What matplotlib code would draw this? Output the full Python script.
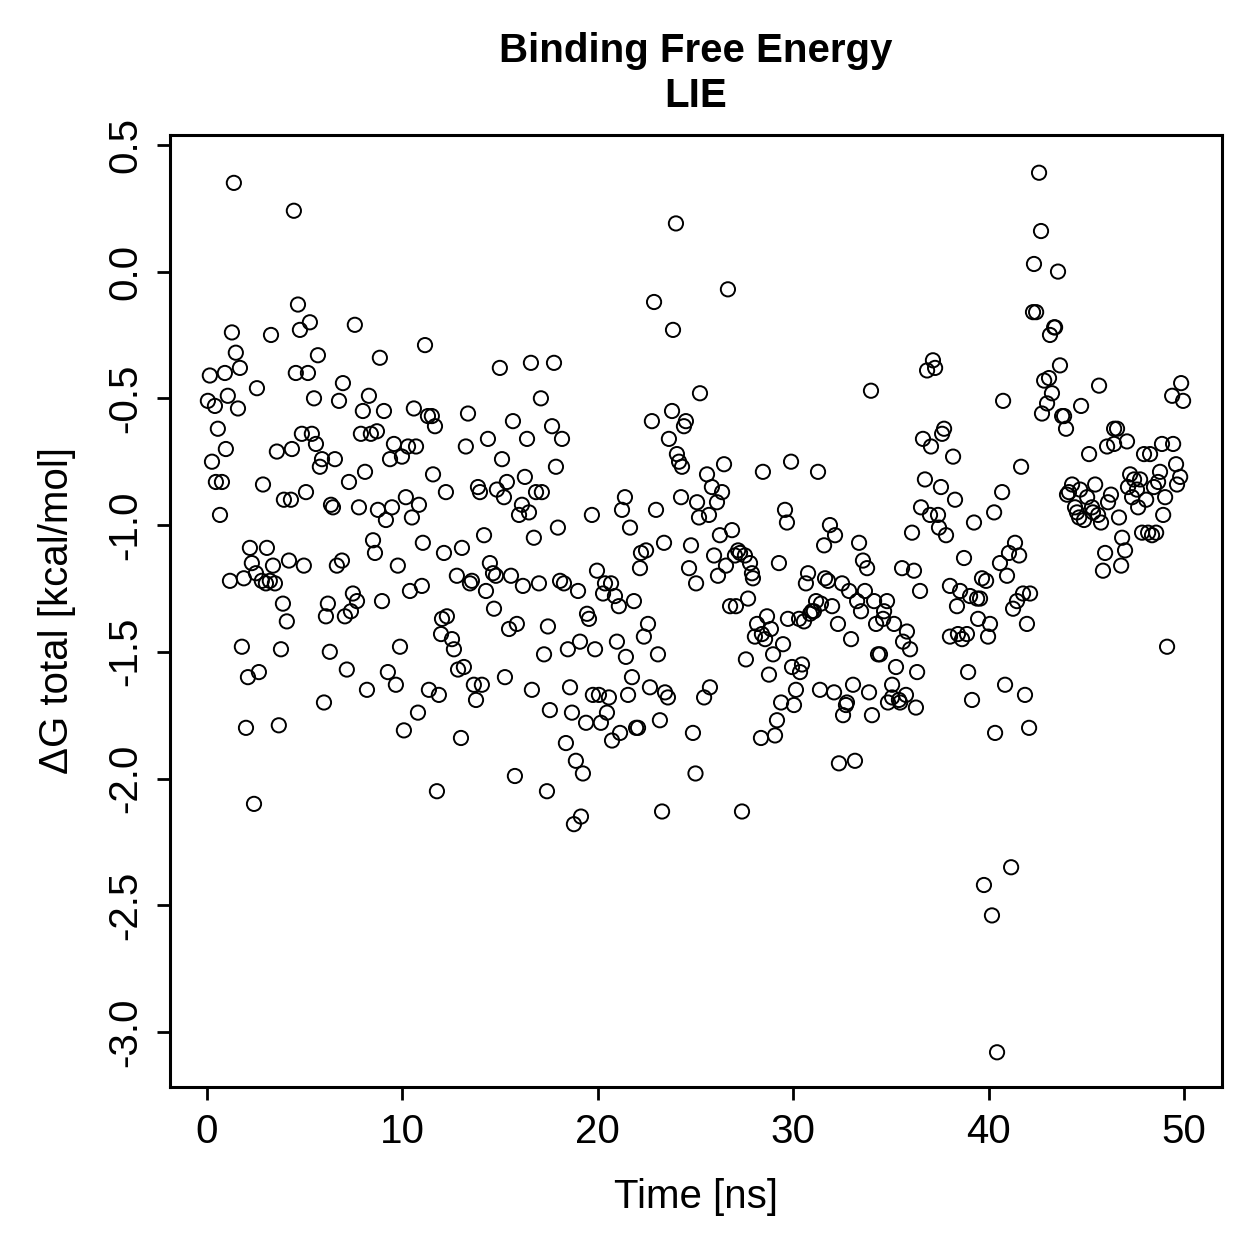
import numpy as np
import matplotlib
matplotlib.use("Agg")
import matplotlib.pyplot as plt

# values (time in ns, dG in kcal/mol)
time_a = [1.38, 4.45, 4.66, 5.27, 4.76, 7.57, 1.28, 3.28, 11.16, 1.48, 5.68, 8.85, 1.69, 0.15, 0.92,
          4.55, 5.17, 2.56, 6.96, 0.05, 0.41, 1.07, 1.59, 5.48, 6.76, 8.29, 7.98, 9.06, 10.59, 11.31,
          11.51, 11.67, 0.56, 4.86, 5.37, 5.58, 7.88, 8.39, 8.70, 9.57, 10.29, 10.70, 9.98, 9.37, 0.97,
          3.58, 4.35, 5.89, 6.55, 0.26, 5.78, 0.46, 0.77, 2.87, 7.27, 8.09, 11.57, 12.23, 3.94, 4.30,
          5.07, 6.35, 6.45, 7.78, 8.75, 9.47, 10.18, 10.85, 10.49, 9.16, 0.67, 8.50, 8.60, 11.05, 12.13,
          2.20, 3.07, 2.30, 3.38, 4.20, 4.96, 6.91, 6.65, 9.77, 1.18, 1.89, 2.51, 2.81, 3.02, 3.22,
          3.48, 3.89, 6.19, 6.09, 7.47, 7.68, 7.37, 7.06, 8.96, 10.39, 11.00, 12.03, 12.28, 11.98, 4.09,
          1.79, 3.79, 6.29, 9.88, 2.66, 2.10, 7.16, 9.26, 9.67, 8.19, 11.36, 11.87, 5.99, 10.80, 2.00,
          3.68, 10.08, 2.41, 11.77]
dg_a = [0.35, 0.24, -0.13, -0.20, -0.23, -0.21, -0.24, -0.25, -0.29, -0.32, -0.33, -0.34, -0.38, -0.41, -0.40,
        -0.40, -0.40, -0.46, -0.44, -0.51, -0.53, -0.49, -0.54, -0.50, -0.51, -0.49, -0.55, -0.55, -0.54, -0.57,
        -0.57, -0.61, -0.62, -0.64, -0.64, -0.68, -0.64, -0.64, -0.63, -0.68, -0.69, -0.69, -0.73, -0.74, -0.70,
        -0.71, -0.70, -0.74, -0.74, -0.75, -0.77, -0.83, -0.83, -0.84, -0.83, -0.79, -0.80, -0.87, -0.90, -0.90,
        -0.87, -0.92, -0.93, -0.93, -0.94, -0.93, -0.89, -0.92, -0.97, -0.98, -0.96, -1.06, -1.11, -1.07, -1.11,
        -1.09, -1.09, -1.15, -1.16, -1.14, -1.16, -1.14, -1.16, -1.16, -1.22, -1.21, -1.19, -1.22, -1.23, -1.22,
        -1.23, -1.31, -1.31, -1.36, -1.27, -1.30, -1.34, -1.36, -1.30, -1.26, -1.24, -1.37, -1.36, -1.43, -1.38,
        -1.48, -1.49, -1.50, -1.48, -1.58, -1.60, -1.57, -1.58, -1.63, -1.65, -1.65, -1.67, -1.70, -1.74, -1.80,
        -1.79, -1.81, -2.10, -2.05]

time_b = [24.00, 22.88, 23.85, 14.99, 16.58, 17.76, 17.09, 13.36, 15.66, 17.66, 18.17, 14.38, 16.38, 13.25, 15.10,
          17.86, 22.77, 23.80, 24.51, 24.41, 23.64, 24.05, 24.16, 24.31, 25.23, 16.27, 15.35, 13.87, 13.97, 14.84,
          15.20, 16.84, 17.14, 16.12, 15.97, 16.48, 19.70, 21.39, 21.24, 21.65, 22.98, 24.26, 25.08, 25.18, 14.18,
          13.05, 16.73, 17.96, 23.39, 24.77, 22.21, 22.47, 22.16, 24.67, 25.03, 14.48, 14.64, 14.79, 12.79, 13.46,
          13.56, 15.56, 14.28, 16.17, 16.99, 18.07, 18.27, 18.99, 19.96, 20.37, 20.68, 20.27, 20.88, 21.08, 21.85,
          14.69, 19.45, 19.55, 15.86, 15.46, 17.45, 22.57, 22.36, 12.54, 12.64, 19.09, 18.47, 19.86, 20.98, 21.44,
          23.08, 17.25, 13.15, 12.85, 15.25, 14.07, 13.66, 21.75, 16.63, 18.58, 22.67, 19.75, 20.06, 20.57, 21.55,
          23.44, 23.59, 13.77, 17.55, 18.68, 20.47, 19.40, 20.16, 23.18, 21.96, 22.06, 21.14, 20.73, 24.87, 13.00,
          18.37, 18.88, 15.76, 19.24, 17.40, 19.14, 18.78, 23.29, 25.00]
dg_b = [0.19, -0.12, -0.23, -0.38, -0.36, -0.36, -0.50, -0.56, -0.59, -0.61, -0.66, -0.66, -0.66, -0.69, -0.74,
        -0.77, -0.59, -0.55, -0.59, -0.61, -0.66, -0.72, -0.75, -0.77, -0.48, -0.81, -0.83, -0.85, -0.87, -0.86,
        -0.89, -0.87, -0.87, -0.92, -0.96, -0.95, -0.96, -0.89, -0.94, -1.01, -0.94, -0.89, -0.91, -0.97, -1.04,
        -1.09, -1.05, -1.01, -1.07, -1.08, -1.11, -1.10, -1.17, -1.17, -1.23, -1.15, -1.19, -1.20, -1.20, -1.23,
        -1.22, -1.20, -1.26, -1.24, -1.23, -1.22, -1.23, -1.26, -1.18, -1.23, -1.23, -1.27, -1.28, -1.32, -1.30,
        -1.33, -1.35, -1.37, -1.39, -1.41, -1.40, -1.39, -1.44, -1.45, -1.49, -1.46, -1.49, -1.49, -1.46, -1.52,
        -1.51, -1.51, -1.56, -1.57, -1.60, -1.63, -1.63, -1.60, -1.65, -1.64, -1.64, -1.67, -1.67, -1.68, -1.67,
        -1.66, -1.68, -1.69, -1.73, -1.74, -1.74, -1.78, -1.78, -1.77, -1.80, -1.80, -1.82, -1.85, -1.82, -1.84,
        -1.86, -1.93, -1.99, -1.98, -2.05, -2.15, -2.18, -2.13, -1.98]

time_c = [26.66, 33.98, 37.15, 36.85, 37.26, 36.64, 37.05, 37.72, 37.62, 38.18, 26.46, 28.45, 29.89, 31.27, 25.59,
          25.84, 26.36, 26.10, 25.69, 26.25, 26.87, 25.95, 26.56, 26.15, 27.18, 27.02, 27.28, 27.53, 27.79, 27.89,
          27.94, 29.27, 29.58, 29.68, 31.88, 32.14, 31.58, 33.37, 33.57, 33.78, 35.57, 36.18, 36.49, 36.74, 37.56,
          36.54, 37.00, 37.41, 37.46, 37.82, 36.08, 38.28, 38.02, 38.02, 30.76, 30.65, 31.63, 31.78, 32.50, 32.86,
          33.67, 33.27, 34.14, 34.80, 33.47, 34.65, 34.60, 34.24, 35.16, 35.82, 35.62, 35.98, 32.29, 32.96, 31.99,
          31.17, 31.42, 30.96, 30.86, 31.06, 30.55, 30.30, 29.73, 27.69, 26.77, 27.07, 28.66, 28.15, 28.86, 28.04,
          28.56, 28.40, 29.48, 28.97, 27.58, 28.76, 29.94, 30.45, 30.35, 34.34, 34.44, 35.26, 36.34, 35.06, 33.06,
          33.88, 31.37, 32.09, 30.14, 29.38, 30.04, 25.74, 25.44, 32.75, 32.70, 32.55, 34.85, 35.06, 35.41, 35.47,
          35.77, 36.28, 34.03, 29.17, 29.07, 28.35, 33.16, 32.34, 27.38]
dg_c = [-0.07, -0.47, -0.35, -0.39, -0.38, -0.66, -0.69, -0.62, -0.64, -0.73, -0.76, -0.79, -0.75, -0.79, -0.80,
        -0.85, -0.87, -0.91, -0.96, -1.04, -1.02, -1.12, -1.16, -1.20, -1.10, -1.12, -1.11, -1.12, -1.15, -1.19,
        -1.21, -1.15, -0.94, -0.99, -1.00, -1.04, -1.08, -1.07, -1.14, -1.17, -1.17, -1.18, -1.26, -0.82, -0.85,
        -0.93, -0.96, -0.96, -1.01, -1.04, -1.03, -0.90, -1.24, -1.44, -1.19, -1.23, -1.21, -1.22, -1.23, -1.26,
        -1.26, -1.30, -1.30, -1.30, -1.34, -1.34, -1.37, -1.39, -1.39, -1.42, -1.46, -1.49, -1.39, -1.45, -1.32,
        -1.30, -1.31, -1.34, -1.35, -1.34, -1.38, -1.37, -1.37, -1.29, -1.32, -1.32, -1.36, -1.39, -1.41, -1.44,
        -1.45, -1.43, -1.47, -1.51, -1.53, -1.59, -1.56, -1.55, -1.58, -1.51, -1.51, -1.56, -1.58, -1.63, -1.63,
        -1.66, -1.65, -1.66, -1.65, -1.70, -1.71, -1.64, -1.68, -1.70, -1.71, -1.75, -1.70, -1.68, -1.69, -1.70,
        -1.67, -1.72, -1.75, -1.77, -1.83, -1.84, -1.93, -1.94, -2.13]

time_d = [42.58, 42.68, 42.32, 43.55, 42.27, 42.43, 43.40, 43.35, 43.14, 43.65, 42.84, 43.09, 43.24, 42.99, 42.73,
          40.74, 43.76, 43.86, 43.96, 44.73, 45.65, 41.66, 45.14, 46.42, 46.57, 46.06, 46.42, 47.08, 47.95, 48.26,
          48.87, 49.44, 49.59, 49.85, 49.39, 49.95, 40.69, 40.28, 39.25, 41.35, 41.04, 41.56, 40.58, 38.74, 40.94,
          39.66, 39.87, 38.54, 39.05, 39.41, 39.56, 38.38, 41.76, 42.12, 41.45, 41.25, 39.46, 40.07, 39.97, 41.96,
          38.43, 38.64, 38.89, 38.95, 39.15, 40.84, 41.86, 40.33, 42.07, 49.13, 44.27, 44.11, 44.01, 44.68, 45.45,
          45.04, 44.42, 44.52, 44.63, 44.88, 45.29, 45.34, 45.60, 45.75, 46.26, 46.11, 46.67, 47.24, 47.13, 47.44,
          47.75, 47.59, 47.34, 47.65, 48.06, 48.46, 48.77, 48.67, 49.80, 49.64, 49.03, 48.93, 47.85, 48.16, 48.36,
          48.57, 46.83, 46.98, 45.96, 45.85, 46.78, 41.15, 39.76, 40.17, 40.43]
dg_d = [0.39, 0.16, 0.03, 0.00, -0.16, -0.16, -0.22, -0.22, -0.25, -0.37, -0.43, -0.42, -0.48, -0.52, -0.56,
        -0.51, -0.57, -0.57, -0.62, -0.53, -0.45, -0.77, -0.72, -0.62, -0.62, -0.69, -0.68, -0.67, -0.72, -0.72,
        -0.68, -0.68, -0.76, -0.44, -0.49, -0.51, -0.87, -0.95, -0.99, -1.07, -1.11, -1.12, -1.15, -1.13, -1.20,
        -1.21, -1.22, -1.26, -1.28, -1.29, -1.29, -1.32, -1.27, -1.27, -1.30, -1.33, -1.37, -1.39, -1.44, -1.39,
        -1.43, -1.45, -1.43, -1.58, -1.69, -1.63, -1.67, -1.82, -1.80, -1.48, -0.84, -0.87, -0.88, -0.86, -0.84,
        -0.89, -0.93, -0.95, -0.97, -0.98, -0.93, -0.95, -0.96, -0.99, -0.88, -0.91, -0.97, -0.80, -0.85, -0.82,
        -0.82, -0.86, -0.89, -0.93, -0.90, -0.85, -0.79, -0.83, -0.81, -0.84, -0.89, -0.96, -1.03, -1.03, -1.04,
        -1.03, -1.05, -1.10, -1.11, -1.18, -1.16, -2.35, -2.42, -2.54, -3.08]

x_ticks = [0, 10, 20, 30, 40, 50]
y_ticks = [-3.0, -2.5, -2.0, -1.5, -1.0, -0.5, 0.0, 0.5]

time = np.array(time_a + time_b + time_c + time_d)
dg = np.array(dg_a + dg_b + dg_c + dg_d)
order = np.argsort(time)
time, dg = time[order], dg[order]

plt.rcParams['font.family'] = ['Liberation Sans', 'DejaVu Sans']

fig = plt.figure(figsize=(12.59, 12.59), dpi=100)
ax = fig.add_axes([0.135, 0.1366, 0.8356, 0.7562])

ax.scatter(time, dg, s=105, facecolors='none', edgecolors='black', linewidths=1.4)

ax.set_xlim(-1.89, 51.94)
ax.set_ylim(-3.217, 0.539)
ax.set_xticks(x_ticks)
ax.set_xticklabels([str(t) for t in x_ticks])
ax.set_yticks(y_ticks)
ax.set_yticklabels([f"{v:.1f}" for v in y_ticks], rotation=90, va='center')
ax.tick_params(labelsize=29, length=9.5, width=2.0, pad=9)
for sp in ax.spines.values():
    sp.set_linewidth(2.2)

ax.set_xlabel("Time [ns]", fontsize=29, labelpad=20)
ax.set_ylabel("\u0394G total [kcal/mol]", fontsize=29, labelpad=22)
ax.set_title("Binding Free Energy\nLIE", fontsize=29, fontweight='bold', pad=20,
             linespacing=1.25)

fig.savefig("out.png", dpi=100, facecolor='white')
